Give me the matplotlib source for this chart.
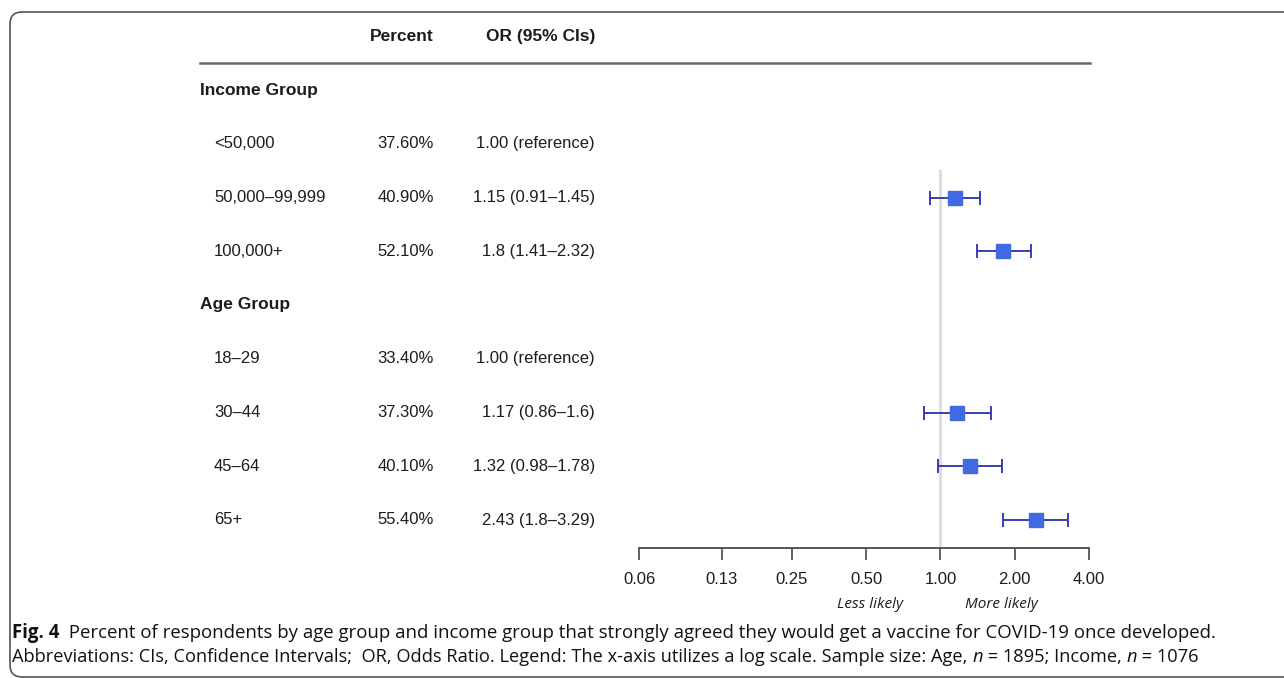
import numpy as np
import matplotlib
matplotlib.use("Agg")
import matplotlib.pyplot as plt
from matplotlib import font_manager as fm
from matplotlib.patches import FancyBboxPatch
from matplotlib.lines import Line2D
from matplotlib.transforms import IdentityTransform, blended_transform_factory

# ---- data ----
groups = ["Income Group", "Age Group"]
group_rows = [0, 4]
labels = ["<50,000", "50,000\u201399,999", "100,000+",
          "18\u201329", "30\u201344", "45\u201364", "65+"]
item_rows = [1, 2, 3, 5, 6, 7, 8]
percent = ["37.60%", "40.90%", "52.10%", "33.40%", "37.30%", "40.10%", "55.40%"]
odds = [1.00, 1.15, 1.8, 1.00, 1.17, 1.32, 2.43]
ci_lo = [np.nan, 0.91, 1.41, np.nan, 0.86, 0.98, 1.8]
ci_hi = [np.nan, 1.45, 2.32, np.nan, 1.6, 1.78, 3.29]
or_text = ["1.00 (reference)", "1.15 (0.91\u20131.45)", "1.8 (1.41\u20132.32)",
           "1.00 (reference)", "1.17 (0.86\u20131.6)", "1.32 (0.98\u20131.78)",
           "2.43 (1.8\u20133.29)"]
is_ref = [True, False, False, True, False, False, False]
xticks = [0.06, 0.13, 0.25, 0.50, 1.00, 2.00, 4.00]

W, H = 1284, 678
TXT = "#1c1c1c"
SQ, BAR = "#4169E1", "#3C3CB4"
plt.rcParams["font.family"] = ["Liberation Sans", "DejaVu Sans"]

names = {f.name for f in fm.fontManager.ttflist}
CAP = "Liberation Sans Narrow" if "Liberation Sans Narrow" in names else "Open Sans"

fig = plt.figure(figsize=(W / 100, H / 100), dpi=100)
renderer = fig.canvas.get_renderer()

# forest panel: rows at y = 90 + 53.75*row (px from top)
y_axis_px = 548
row_top = -90 / 53.75
row_bot = (y_axis_px - 90) / 53.75
ax = fig.add_axes([639 / W, (H - y_axis_px) / H, 450 / W, y_axis_px / H])
ax.set_xscale("log")
ax.set_xlim(0.06, 4.0)
ax.set_ylim(row_bot, row_top)
ax.patch.set_alpha(0)
for s in ["left", "right", "top"]:
    ax.spines[s].set_visible(False)
ax.spines["bottom"].set_color("#555555")
ax.spines["bottom"].set_linewidth(1.4)
ax.set_yticks([])
ax.set_xticks(xticks)
ax.set_xticklabels([f"{t:.2f}" for t in xticks], fontsize=12, color=TXT)
ax.xaxis.set_minor_locator(matplotlib.ticker.NullLocator())
ax.tick_params(axis="x", direction="out", length=8.5, width=1.3,
               color="#555555", pad=9)

ax.vlines(1.0, 1.47, row_bot, color="#dcdcdc", lw=2, zorder=1)

for r, o, lo, hi, ref in zip(item_rows, odds, ci_lo, ci_hi, is_ref):
    if ref:
        continue
    ax.errorbar(o, r, xerr=[[o - lo], [hi - o]], fmt="none", ecolor=BAR,
                elinewidth=1.4, capsize=5, capthick=1.4, zorder=3)
    ax.plot(o, r, "s", color=SQ, ms=10, mec=SQ, zorder=4)

# text columns (x in figure fraction, y in row units)
tr = blended_transform_factory(fig.transFigure, ax.transData)
fig.text(434 / W, -1, "Percent", transform=tr, ha="right", va="center",
         fontsize=12.5, fontweight="bold", color=TXT)
fig.text(595 / W, -1, "OR (95% CIs)", transform=tr, ha="right", va="center",
         fontsize=12.5, fontweight="bold", color=TXT)
fig.add_artist(Line2D([200 / W, 1090 / W], [-0.5, -0.5], transform=tr,
                      color="#666666", lw=1.8))
for g, r in zip(groups, group_rows):
    fig.text(200 / W, r, g, transform=tr, ha="left", va="center",
             fontsize=12.5, fontweight="bold", color=TXT)
for lab, r, p, ot in zip(labels, item_rows, percent, or_text):
    fig.text(214 / W, r, lab, transform=tr, ha="left", va="center",
             fontsize=12, color=TXT)
    fig.text(434 / W, r, p, transform=tr, ha="right", va="center",
             fontsize=12, color=TXT)
    fig.text(595 / W, r, ot, transform=tr, ha="right", va="center",
             fontsize=12, color=TXT)

fig.text(870 / W, 1 - 604 / H, "Less likely", ha="center", va="center",
         fontsize=11, style="italic", family=[CAP, "DejaVu Sans"], color=TXT)
fig.text(1001 / W, 1 - 604 / H, "More likely", ha="center", va="center",
         fontsize=11, style="italic", family=[CAP, "DejaVu Sans"], color=TXT)

# frame
fig.add_artist(FancyBboxPatch((10, 1), 1320, 665,
                              boxstyle="round,pad=0,rounding_size=12",
                              transform=IdentityTransform(), fc="none",
                              ec="#555555", lw=1.2))


# caption, drawn as runs and fitted to the reference line width
def draw_runs(x0, ybase, runs, target_w, size=14):
    def place(sz):
        arts, x = [], x0
        for txt, kw in runs:
            t = fig.text(x / W, 1 - ybase / H, txt, fontsize=sz, va="baseline",
                         family=[CAP, "DejaVu Sans"], color="#111111", **kw)
            x += t.get_window_extent(renderer).width
            arts.append(t)
        return arts, x - x0
    arts, w = place(size)
    for a in arts:
        a.remove()
    place(size * target_w / w)


draw_runs(12, 638, [("Fig. 4", {"fontweight": "bold"}),
                    ("  Percent of respondents by age group and income group "
                     "that strongly agreed they would get a vaccine for "
                     "COVID-19 once developed.", {})], 1216)
draw_runs(12, 662, [("Abbreviations: CIs, Confidence Intervals;  OR, Odds "
                     "Ratio. Legend: The x-axis utilizes a log scale. Sample "
                     "size: Age, ", {}), ("n", {"style": "italic"}),
                    (" = 1895; Income, ", {}), ("n", {"style": "italic"}),
                    (" = 1076", {})], 1196)

fig.savefig("out.png", dpi=100)
